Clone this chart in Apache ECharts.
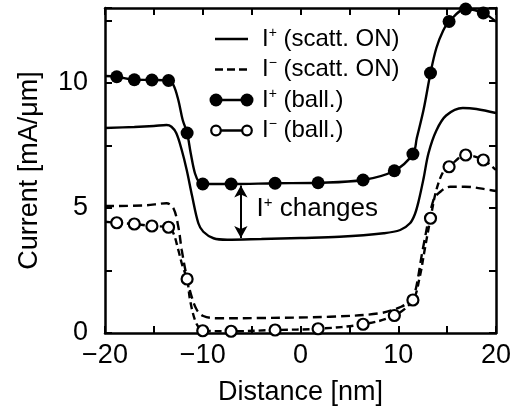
<!DOCTYPE html>
<html>
<head>
<meta charset="utf-8">
<script src="https://cdn.jsdelivr.net/npm/echarts@6/dist/echarts.min.js"></script>
<style>
  html, body { margin: 0; padding: 0; background: #fff; }
  #main { width: 515px; height: 414px; }
</style>
</head>
<body>
<div id="main"></div>
<script>
// x in nm, y in mA/um
var scattPlus = [[-20, 8.2], [-17, 8.24], [-15, 8.28], [-13.7, 8.32], [-13.2, 8.25], [-12.7, 7.99],
  [-12.15, 7.32], [-11.64, 6.52], [-11.1, 5.5], [-10.45, 4.39], [-9.94, 4.05], [-8.9, 3.79], [-7.5, 3.73],
  [-4, 3.76], [0, 3.8], [4, 3.85], [8.5, 3.99], [10.2, 4.12], [11.2, 4.39], [11.7, 4.75], [12.1, 5.3],
  [12.6, 6.2], [13.1, 7.2], [13.9, 8.1], [14.9, 8.7], [16.6, 9.0], [18, 8.96], [20, 8.8]];
var scattMinus = [[-20, 5.08], [-16, 5.1], [-13.7, 5.19], [-13.0, 4.99], [-12.5, 4.25], [-12.15, 3.32],
  [-11.64, 2.25], [-11.13, 1.45], [-10.6, 0.92], [-9.94, 0.68], [-8.6, 0.59], [-4, 0.6], [3, 0.65],
  [8.1, 0.79], [10.3, 1.05], [11.2, 1.3], [11.7, 1.6], [12.56, 3.45], [13.6, 5.32], [14.3, 5.65],
  [15.3, 5.85], [16.8, 5.85], [19.4, 5.72], [20, 5.68]];
var ballPlusMarks = [[-18.8, 10.25], [-17, 10.13], [-15.2, 10.12], [-13.5, 10.1], [-11.6, 8.0], [-10, 5.96],
  [-7.1, 5.96], [-2.6, 5.99], [1.8, 6.01], [6.4, 6.12], [9.6, 6.49], [11.5, 7.16], [13.3, 10.4],
  [15.2, 12.46], [16.9, 12.96], [18.7, 12.8]];
var ballPlusKnots = [[-20, 10.28], [-13.0, 9.92], [-12.5, 9.32], [-12.05, 8.52], [-11.23, 7.19],
  [-10.8, 6.39], [-10.35, 6.01], [11.9, 7.8], [12.6, 8.95], [13.9, 11.4], [14.6, 12.1], [20, 12.45]];
var ballMinusMarks = [[-18.8, 4.41], [-17, 4.36], [-15.2, 4.28], [-13.5, 4.23], [-11.6, 2.16], [-10, 0.09],
  [-7.1, 0.07], [-2.6, 0.12], [1.8, 0.17], [6.4, 0.35], [9.6, 0.7], [11.5, 1.32], [13.3, 4.59],
  [15.2, 6.65], [16.9, 7.12], [18.7, 6.92]];
var ballMinusKnots = [[-20, 4.45], [-13.0, 3.99], [-12.5, 3.32], [-12.05, 2.65], [-11.3, 1.32],
  [-10.8, 0.52], [-10.35, 0.19], [12.2, 2.25], [12.7, 3.32], [13.9, 5.72], [14.6, 6.45], [20, 6.52]];
var xTickLabels = ['\u221220', '\u221210', '0', '10', '20'];
var yTickLabels = ['0', '5', '10'];
var arrowX = -6.1, arrowTop = 5.9, arrowBottom = 3.8;

function curveOf(marks, knots) {
  return marks.concat(knots).sort(function (a, b) { return a[0] - b[0]; });
}

var FONT = 'Liberation Sans';
var chart = echarts.init(document.getElementById('main'));

function xAxisCfg(pos, labels) {
  return {
    type: 'value', position: pos, min: -20, max: 20, interval: 5,
    axisLine: { show: true, onZero: false, lineStyle: { color: '#000', width: 2.5 } },
    axisTick: { show: true, inside: true, length: 7, lineStyle: { color: '#000', width: 2 } },
    splitLine: { show: false },
    axisLabel: {
      show: labels, margin: 9, color: '#000', fontFamily: FONT, fontSize: 27,
      formatter: function (v) { return v % 10 === 0 ? xTickLabels[(v + 20) / 10] : ''; }
    }
  };
}
function yAxisCfg(pos, labels) {
  return {
    type: 'value', position: pos, min: 0, max: 13, interval: 2.5,
    axisLine: { show: true, onZero: false, lineStyle: { color: '#000', width: 2.5 } },
    axisTick: { show: true, inside: true, length: 7, lineStyle: { color: '#000', width: 2 } },
    splitLine: { show: false },
    axisLabel: {
      show: labels, margin: 17, color: '#000', fontFamily: FONT, fontSize: 27,
      formatter: function (v) { return v % 5 === 0 ? yTickLabels[v / 5] : ''; }
    }
  };
}

var xb = xAxisCfg('bottom', true);
xb.name = 'Distance [nm]';
xb.nameLocation = 'middle';
xb.nameGap = 46;
xb.nameTextStyle = { color: '#000', fontFamily: FONT, fontSize: 27 };
var yl = yAxisCfg('left', true);
yl.name = 'Current [mA/\u03bcm]';
yl.nameLocation = 'middle';
yl.nameGap = 62;
yl.nameTextStyle = { color: '#000', fontFamily: FONT, fontSize: 27 };

var option = {
  animation: false,
  grid: { left: 105, right: 19, top: 8, bottom: 81 },
  xAxis: [xb, xAxisCfg('top', false)],
  yAxis: [yl, yAxisCfg('right', false)],
  series: [
    {
      name: 'I+ (scatt. ON)', type: 'line', data: scattPlus, showSymbol: false, smooth: 0.35,
      lineStyle: { color: '#000', width: 2.4 },
      markLine: {
        silent: true, symbol: ['arrow', 'arrow'], symbolSize: [10, 12],
        lineStyle: { color: '#000', width: 2, type: 'solid' }, label: { show: false },
        data: [[{ coord: [arrowX, arrowTop] }, { coord: [arrowX, arrowBottom] }]]
      }
    },
    {
      name: 'I- (scatt. ON)', type: 'line', data: scattMinus, showSymbol: false, smooth: 0.35,
      lineStyle: { color: '#000', width: 2.4, type: [9, 5] }
    },
    {
      name: 'I+ (ball.) curve', type: 'line', data: curveOf(ballPlusMarks, ballPlusKnots),
      showSymbol: false, smooth: 0.35,
      lineStyle: { color: '#000', width: 2.4 }
    },
    {
      name: 'I- (ball.) curve', type: 'line', data: curveOf(ballMinusMarks, ballMinusKnots),
      showSymbol: false, smooth: 0.35,
      lineStyle: { color: '#000', width: 2.4, type: [7, 4] }
    },
    {
      name: 'I+ (ball.)', type: 'scatter', data: ballPlusMarks, symbolSize: 13, clip: false, z: 5,
      itemStyle: { color: '#000', opacity: 1 }
    },
    {
      name: 'I- (ball.)', type: 'scatter', data: ballMinusMarks, symbolSize: 11, clip: false, z: 5,
      itemStyle: { color: '#fff', borderColor: '#000', borderWidth: 2.2, opacity: 1 }
    }
  ]
};
chart.setOption(option);

// legend and annotation text
var rich = {
  b: { fontFamily: FONT, fontSize: 24, color: '#000' },
  s: { fontFamily: FONT, fontSize: 14, color: '#000', padding: [0, 0, 12, 0] }
};
var legendRows = [
  { txt: '{b|I}{s|+}{b| (scatt. ON)}', kind: 'solid' },
  { txt: '{b|I}{s|\u2212}{b| (scatt. ON)}', kind: 'dash' },
  { txt: '{b|I}{s|+}{b| (ball.)}', kind: 'filled' },
  { txt: '{b|I}{s|\u2212}{b| (ball.)}', kind: 'open' }
];
var g = [];
legendRows.forEach(function (r, i) {
  var y = 39 + i * 30.5;
  var ls = { stroke: '#000', lineWidth: 2.4 };
  if (r.kind === 'dash') ls.lineDash = [8, 4];
  g.push({ type: 'line', shape: { x1: 215, y1: y, x2: 248, y2: y }, style: ls, z: 10 });
  if (r.kind === 'filled' || r.kind === 'open') {
    [216, 247].forEach(function (cx) {
      g.push({
        type: 'circle', shape: { cx: cx, cy: y, r: r.kind === 'filled' ? 6.5 : 4.8 }, z: 11,
        style: r.kind === 'filled' ? { fill: '#000' } : { fill: '#fff', stroke: '#000', lineWidth: 2.2 }
      });
    });
  }
  g.push({
    type: 'text', x: 262, y: y, z: 10,
    style: { text: r.txt, rich: rich, verticalAlign: 'middle', align: 'left' }
  });
});
var p = chart.convertToPixel({ xAxisIndex: 0, yAxisIndex: 0 }, [arrowX + 1.6, (arrowTop + arrowBottom) / 2 + 0.1]);
g.push({
  type: 'text', x: p[0], y: p[1], z: 10,
  style: {
    text: '{b|I}{s|+}{b| changes}', verticalAlign: 'middle', align: 'left',
    rich: {
      b: { fontFamily: FONT, fontSize: 26, color: '#000' },
      s: { fontFamily: FONT, fontSize: 15, color: '#000', padding: [0, 0, 13, 0] }
    }
  }
});
chart.setOption({ graphic: g });
</script>
</body>
</html>
